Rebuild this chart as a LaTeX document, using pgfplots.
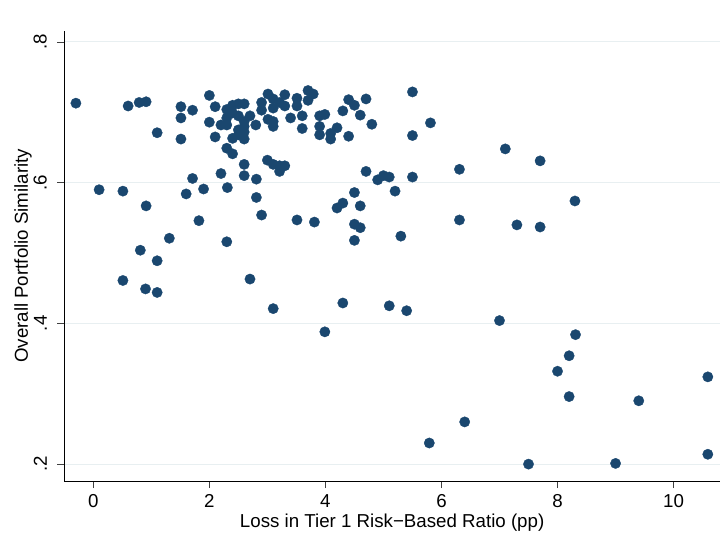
\documentclass[border=0pt]{standalone}
\usepackage{pgfplots}
\pgfplotsset{compat=1.18}
\usepackage{fontspec}
\setmainfont{Liberation Sans}
\definecolor{stnavy}{RGB}{26,71,111}
\definecolor{stgrid}{RGB}{232,239,241}
\begin{document}
\fontsize{18.7bp}{22bp}\selectfont
\begin{tikzpicture}
\useasboundingbox (0,0) rectangle (727bp,552bp);
\begin{axis}[
  at={(64.3bp,71bp)}, anchor=south west,
  scale only axis, width=655.7bp, height=450.3bp,
  xmin=-0.5, xmax=10.8, ymin=0.176, ymax=0.816,
  axis lines*=left,
  axis line style={black, line width=0.8bp},
  tick align=outside, major tick length=7bp,
  tick style={black!75, line width=0.8bp},
  xtick={0,2,4,6,8,10}, xticklabels={0,2,4,6,8,10},
  ytick={0.2,0.4,0.6,0.8}, yticklabels={.2,.4,.6,.8},
  xticklabel style={anchor=north, inner sep=0pt},
  xticklabel shift=6.3bp,
  yticklabel style={rotate=90, anchor=south, inner sep=0pt},
  yticklabel shift=10.3bp,
  ymajorgrids, major grid style={color=stgrid, line width=1bp},
  xlabel={Loss in Tier 1 Risk−Based Ratio (pp)},
  ylabel={Overall Portfolio Similarity},
  xlabel style={at={(axis description cs:0.5,-0.1022)}, anchor=base, inner sep=0pt},
  ylabel style={at={(axis description cs:-0.0554,0.5)}, anchor=base, inner sep=0pt},
]
\addplot[only marks, mark=*, mark size=5.2bp, mark options={fill=stnavy, draw=stnavy, line width=0.3bp}] coordinates {
(-0.30,0.713) (0.60,0.709) (0.79,0.714) (0.91,0.715) (1.10,0.671)
(1.51,0.708) (1.51,0.692) (1.51,0.662) (1.71,0.703) (2.00,0.724)
(2.10,0.708) (2.00,0.686) (2.10,0.665) (2.30,0.649) (2.40,0.641)
(2.60,0.626) (2.60,0.610) (2.20,0.613) (1.71,0.606) (0.10,0.590)
(0.51,0.588) (1.60,0.584) (1.90,0.591) (2.31,0.593) (0.91,0.567)
(2.30,0.704) (2.40,0.710) (2.50,0.712) (2.60,0.712) (2.30,0.692)
(2.40,0.699) (2.50,0.695) (2.70,0.695) (2.20,0.682) (2.30,0.682)
(2.60,0.687) (2.60,0.680) (2.50,0.675) (2.60,0.672) (2.80,0.682)
(2.40,0.663) (2.60,0.662) (2.50,0.668) (3.01,0.726) (2.90,0.714)
(3.10,0.719) (3.21,0.714) (3.30,0.725) (3.30,0.709) (2.90,0.703)
(3.10,0.706) (3.01,0.690) (3.10,0.687) (3.10,0.680) (3.40,0.692)
(3.51,0.720) (3.51,0.709) (3.60,0.695) (3.60,0.677) (3.70,0.731)
(3.79,0.726) (3.70,0.717) (3.90,0.695) (3.99,0.697) (3.90,0.680)
(3.90,0.668) (4.09,0.670) (4.20,0.678) (4.09,0.662) (4.30,0.702)
(4.40,0.718) (4.50,0.710) (4.60,0.696) (4.70,0.719) (4.80,0.683)
(4.40,0.666) (3.00,0.632) (3.10,0.626) (3.21,0.624) (3.30,0.624)
(3.21,0.616) (2.81,0.605) (2.81,0.579) (4.70,0.616) (4.90,0.604)
(5.00,0.610) (5.10,0.608) (5.20,0.588) (4.50,0.586) (4.30,0.571)
(4.20,0.564) (4.60,0.567) (5.50,0.729) (5.81,0.685) (5.50,0.667)
(7.10,0.648) (7.70,0.631) (6.31,0.619) (5.50,0.608) (8.30,0.574)
(7.30,0.540) (7.70,0.537) (6.31,0.547) (5.30,0.524) (5.10,0.425)
(5.40,0.418) (7.00,0.404) (1.82,0.546) (2.90,0.554) (3.51,0.547)
(3.81,0.544) (4.50,0.541) (4.60,0.536) (4.50,0.518) (2.30,0.516)
(2.70,0.463) (3.10,0.421) (4.30,0.429) (3.99,0.388) (1.31,0.521)
(0.81,0.504) (1.10,0.489) (0.51,0.461) (0.90,0.449) (1.10,0.444)
(8.31,0.384) (8.20,0.354) (8.00,0.332) (8.20,0.296) (9.40,0.290)
(10.59,0.324) (10.59,0.214) (9.00,0.201) (7.50,0.200) (6.40,0.260)
(5.79,0.230)
};
\end{axis}
\end{tikzpicture}
\end{document}
